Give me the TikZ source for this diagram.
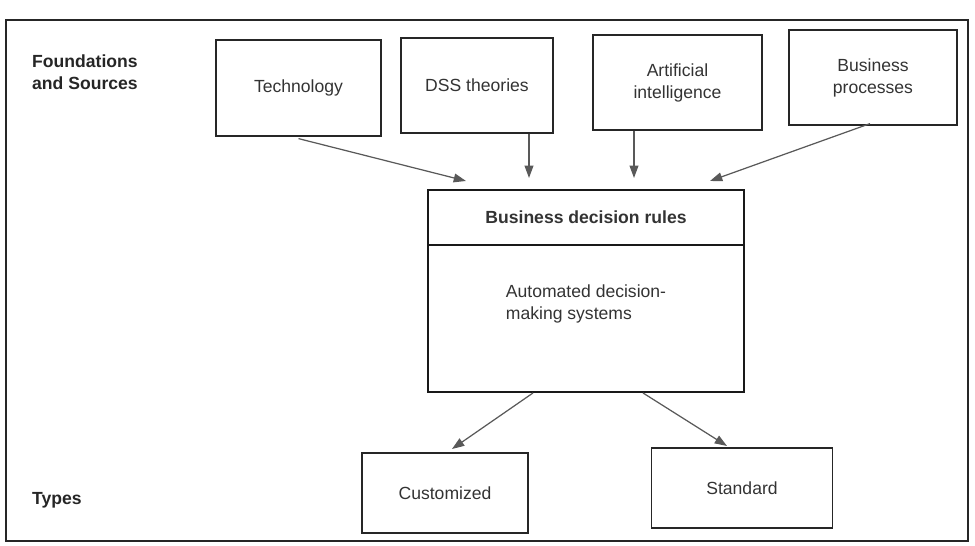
\documentclass[tikz,border=0pt]{standalone}
\usepackage{fontspec}
\setmainfont{Liberation Sans}
\usepackage{tikz}
\usetikzlibrary{arrows.meta}

\begin{document}
\begin{tikzpicture}[x=0.02cm,y=-0.02cm,
  >={Triangle[length=7pt,width=5pt]},
  font=\fontsize{10}{12.5}\selectfont,
  srcbox/.style={draw=black!85,line width=0.7pt,text=black!80,align=center,inner sep=0pt},
  mainbox/.style={draw=black!90,line width=1.1pt,text=black!80,inner sep=0pt},
  rowlabel/.style={anchor=west,align=left,font=\fontsize{10}{12.5}\selectfont\bfseries,text=black!85},
  arr/.style={->,draw=black!65,line width=0.7pt,color=black!65}]
\useasboundingbox (0,0) rectangle (975,546);
\draw[black!85,line width=0.8pt] (6,20) rectangle (968,541);
% row labels
\node[rowlabel] (found) at (26,72) {Foundations\\and Sources};
\node[rowlabel] (types) at (26,500) {Types};
% sources
\node[srcbox,minimum width=165*0.02cm,minimum height=96*0.02cm] (tech) at (298.5,88) {Technology};
\node[srcbox,minimum width=152*0.02cm,minimum height=95*0.02cm] (dss) at (477,85.5) {DSS theories};
\node[srcbox,minimum width=169*0.02cm,minimum height=95*0.02cm] (ai) at (677.5,82.5) {Artificial\\intelligence};
\node[srcbox,minimum width=168*0.02cm,minimum height=95*0.02cm] (bp) at (873,77.5) {Business\\processes};
% rules and systems
\node[mainbox,minimum width=316*0.02cm,minimum height=55*0.02cm,font=\fontsize{10}{12.5}\selectfont\bfseries] (rules) at (586,217.5) {Business decision rules};
\node[mainbox,minimum width=316*0.02cm,minimum height=147*0.02cm,align=left] (adms) at (586,318.5) {Automated decision-\\making systems\\[0.6em]};
% types
\node[srcbox,minimum width=166*0.02cm,minimum height=80*0.02cm] (cust) at (445,493) {Customized};
\node[srcbox,minimum width=181*0.02cm,minimum height=80*0.02cm] (std) at (742,488) {Standard};
% arrow ends
\coordinate (in1) at (466,181);
\coordinate (in2) at (529,178);
\coordinate (in3) at (634,178);
\coordinate (in4) at (710,181);
\coordinate (out1) at (533,392);
\coordinate (out2) at (643,392);
\coordinate (tip1) at (452,449);
\coordinate (tip2) at (727,446);
\draw[arr] ([yshift=-2*0.02cm]tech.south) -- (in1);
\draw[arr] (dss.south -| in2) -- (in2);
\draw[arr] (ai.south -| in3) -- (in3);
\draw[arr] ([xshift=-3*0.02cm,yshift=2*0.02cm]bp.south) -- (in4);
\draw[arr] (adms.south -| out1) -- (tip1);
\draw[arr] (adms.south -| out2) -- (tip2);
\end{tikzpicture}
\end{document}
